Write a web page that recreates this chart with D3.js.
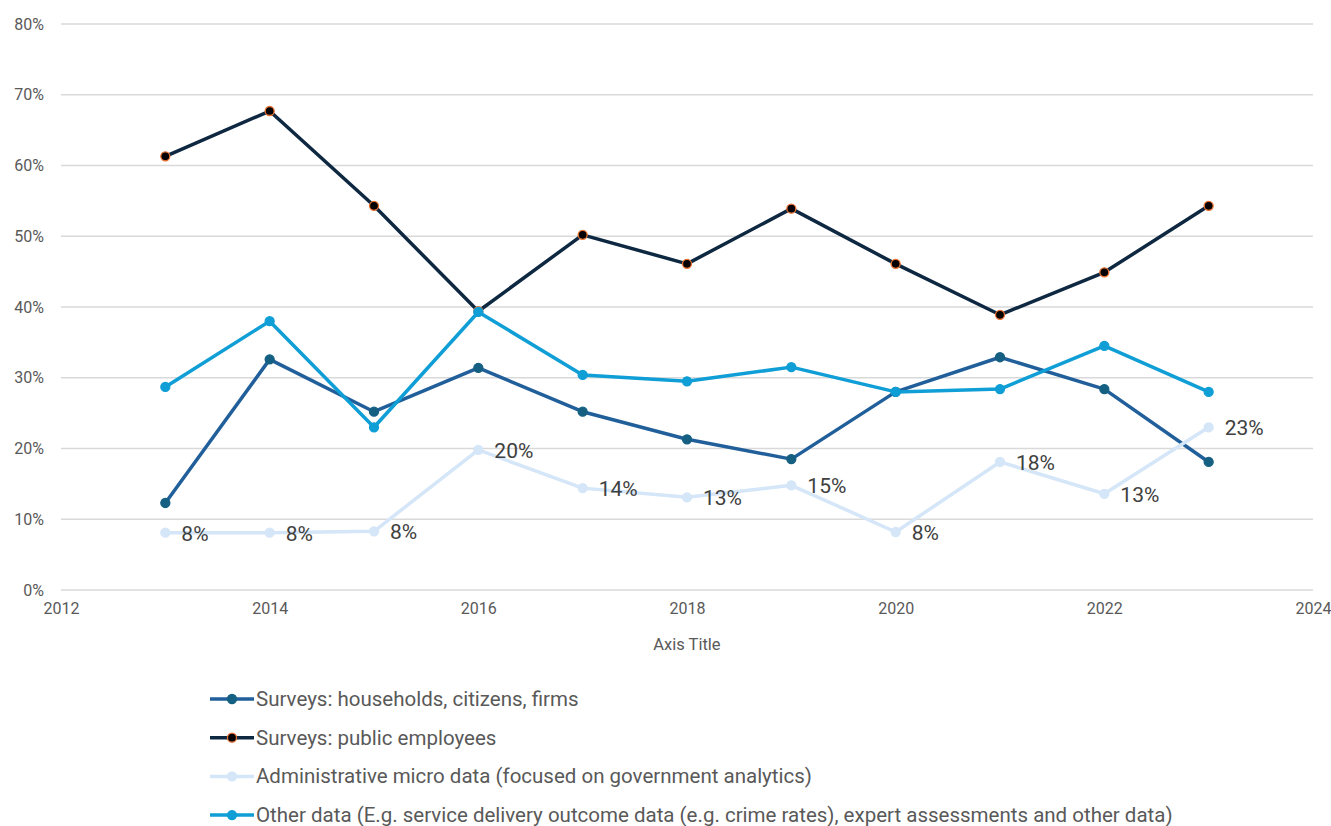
<!DOCTYPE html>
<html>
<head>
<meta charset="utf-8">
<script src="https://cdn.jsdelivr.net/npm/d3@7"></script>
<style>
  body { margin: 0; background: #fff; }
  svg text { font-family: Roboto, "Noto Sans", sans-serif; }
</style>
</head>
<body>
<div id="chart"></div>
<script>
const width = 1331, height = 826;

// data
const years = [2013, 2014, 2015, 2016, 2017, 2018, 2019, 2020, 2021, 2022, 2023];
const households = [12.3, 32.6, 25.2, 31.4, 25.2, 21.3, 18.5, 28.0, 32.9, 28.4, 18.1];
const publicEmployees = [61.3, 67.7, 54.3, 39.4, 50.2, 46.1, 53.9, 46.1, 38.9, 44.9, 54.3];
const adminData = [8.1, 8.1, 8.3, 19.8, 14.4, 13.1, 14.8, 8.2, 18.1, 13.6, 23.0];
const otherData = [28.7, 38.0, 23.0, 39.3, 30.4, 29.5, 31.5, 28.0, 28.4, 34.5, 28.0];
const adminLabels = ["8%", "8%", "8%", "20%", "14%", "13%", "15%", "8%", "18%", "13%", "23%"];
const xTicks = [2012, 2014, 2016, 2018, 2020, 2022, 2024];
const yTicks = [0, 10, 20, 30, 40, 50, 60, 70, 80];

const series = [
	{name: "Surveys: households, citizens, firms", values: households, line: "#215f9a", fill: "#156082", stroke: "#156082"},
	{name: "Surveys: public employees", values: publicEmployees, line: "#0e2841", fill: "#000000", stroke: "#e97132"},
	{name: "Administrative micro data (focused on government analytics)", values: adminData, line: "#d4e6f7", fill: "#d4e6f7", stroke: "#d4e6f7"},
	{name: "Other data (E.g. service delivery outcome data (e.g. crime rates), expert assessments and other data)", values: otherData, line: "#0f9ed5", fill: "#0f9ed5", stroke: "#0f9ed5"}
];

const margin = {left: 61, right: 18, top: 24, bottom: 236};

const x = d3.scaleLinear()
	.domain([2012, 2024])
	.range([margin.left, width - margin.right]);

const y = d3.scaleLinear()
	.domain([0, 80])
	.range([height - margin.bottom, margin.top]);

const svg = d3.select("#chart")
	.append("svg")
	.attr("width", width)
	.attr("height", height);

// gridlines
svg.append("g")
	.selectAll("line")
	.data(yTicks)
	.join("line")
	.attr("x1", x(2012))
	.attr("x2", x(2024))
	.attr("y1", d => y(d))
	.attr("y2", d => y(d))
	.attr("stroke", "#d9d9d9")
	.attr("stroke-width", 1.3);

// y axis labels
const yAxis = svg.append("g")
	.attr("transform", `translate(${margin.left - 17},0)`)
	.call(d3.axisLeft(y).tickValues(yTicks).tickFormat(d => d + "%").tickSize(0).tickPadding(0));
yAxis.select(".domain").remove();
yAxis.selectAll("text")
	.attr("fill", "#595959")
	.style("font-size", "16px");

// x axis labels
const xAxis = svg.append("g")
	.attr("transform", `translate(0,${y(0) + 13})`)
	.call(d3.axisBottom(x).tickValues(xTicks).tickFormat(d3.format("d")).tickSize(0).tickPadding(0));
xAxis.select(".domain").remove();
xAxis.selectAll("text")
	.attr("fill", "#595959")
	.style("font-size", "16px");

svg.append("text")
	.attr("x", (x(2012) + x(2024)) / 2)
	.attr("y", 650)
	.attr("text-anchor", "middle")
	.attr("fill", "#595959")
	.style("font-size", "16.5px")
	.text("Axis Title");

const line = d3.line()
	.x((d, i) => x(years[i]))
	.y(d => y(d));

// draw order: households, employees, admin, other
series.forEach(function(s){
	let g = svg.append("g");
	g.append("path")
		.datum(s.values)
		.attr("d", line)
		.attr("fill", "none")
		.attr("stroke", s.line)
		.attr("stroke-width", 3.5)
		.attr("stroke-linejoin", "round");
	g.selectAll("circle")
		.data(s.values)
		.join("circle")
		.attr("cx", (d, i) => x(years[i]))
		.attr("cy", d => y(d))
		.attr("r", 4.5)
		.attr("fill", s.fill)
		.attr("stroke", s.stroke)
		.attr("stroke-width", 1.3);
});

// data labels on the admin series
svg.append("g")
	.selectAll("text")
	.data(adminData)
	.join("text")
	.attr("x", (d, i) => x(years[i]) + 16)
	.attr("y", d => y(d) + 8)
	.attr("fill", "#404040")
	.style("font-size", "21px")
	.text((d, i) => adminLabels[i]);

// legend
const legend = svg.append("g")
	.selectAll("g")
	.data(series)
	.join("g")
	.attr("transform", (d, i) => `translate(210,${699 + i * 38.7})`);

legend.append("line")
	.attr("x1", 0)
	.attr("x2", 44)
	.attr("stroke", d => d.line)
	.attr("stroke-width", 3.5);

legend.append("circle")
	.attr("cx", 22)
	.attr("r", 4.5)
	.attr("fill", d => d.fill)
	.attr("stroke", d => d.stroke)
	.attr("stroke-width", 1.3);

legend.append("text")
	.attr("x", 46)
	.attr("y", 7)
	.attr("fill", "#595959")
	.style("font-size", "20.5px")
	.text(d => d.name);
</script>
</body>
</html>
